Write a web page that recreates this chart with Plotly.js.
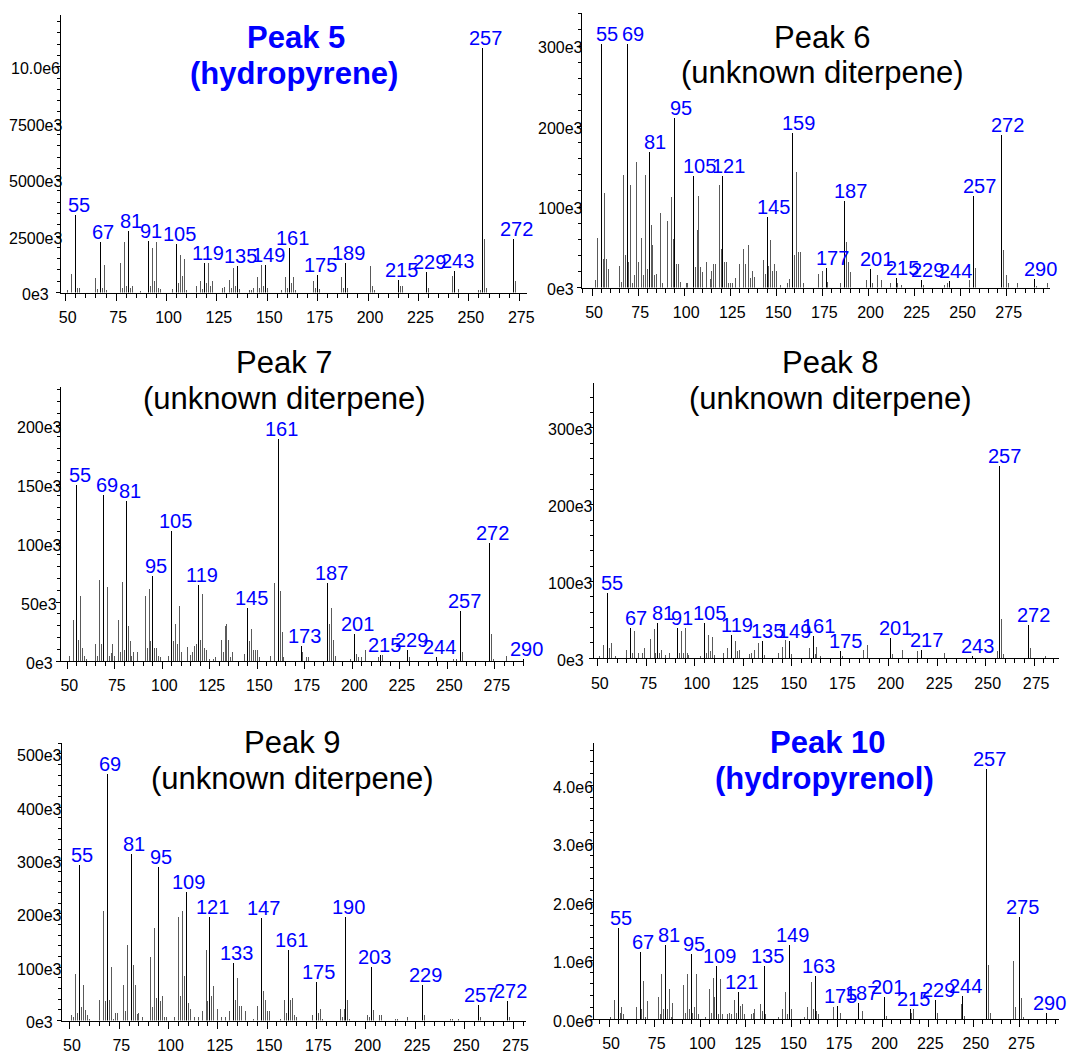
<!DOCTYPE html>
<html><head><meta charset="utf-8">
<script src="https://cdn.plot.ly/plotly-3.0.1.min.js"></script>
<style>
html,body{margin:0;padding:0;background:#fff}
.scatterlayer .js-line{shape-rendering:crispEdges}
</style>
</head><body><div id="chart" style="width:1069px;height:1054px"></div>
<script>
// ---------- DATA (intensities in thousands of counts) ----------
const mzP5 = [51,53,55,56,57,65,66,67,68,69,70,77,78,79,80,81,82,83,87,91,92,93,94,95,96,97,103,105,106,107,108,109,110,115,117,118,119,120,121,122,123,128,129,131,132,133,134,135,136,141,142,143,145,146,147,148,149,150,157,159,160,161,162,163,164,173,174,175,176,187,188,189,190,201,202,203,215,216,217,229,230,242,243,245,255,256,257,258,259,272,273];
const intP5 = [100,820,3430,190,220,640,160,2230,220,1230,90,1310,220,2230,310,2720,220,310,80,2300,300,1970,490,2230,220,160,160,2150,420,1650,740,1480,100,310,490,160,1310,420,1310,310,490,220,250,560,220,1080,310,1160,160,100,100,190,670,220,1230,310,1230,190,100,670,220,1970,420,670,100,490,220,760,160,670,190,1290,220,1160,310,100,560,310,310,900,220,740,960,160,100,100,10830,2370,190,2370,490];
const labP5 = [55,67,81,91,105,119,135,149,161,175,189,215,229,243,257,272];

const mzP6 = [52,53,55,56,57,58,59,65,66,67,68,69,70,71,72,73,74,75,77,78,79,80,81,82,83,84,85,87,88,91,93,94,95,96,97,98,101,102,105,106,107,108,109,110,112,114,115,116,117,119,120,121,122,123,124,125,126,128,130,132,133,135,136,137,138,143,144,145,146,147,148,149,150,152,156,157,159,160,161,162,163,165,173,175,177,178,185,187,188,189,190,199,201,202,205,207,212,215,216,218,229,230,241,243,244,255,257,258,272,273,275,276,281,290,291,297];
const intP6 = [9,62,303,36,117,36,23,27,7,140,41,303,32,127,5,16,156,32,62,16,140,23,168,78,53,16,17,92,5,83,112,60,210,29,29,7,6,6,138,26,71,114,26,19,32,11,20,29,29,127,48,138,32,32,5,5,6,12,29,48,29,53,12,20,13,34,17,87,27,59,20,29,20,3,6,10,192,41,143,44,44,6,17,21,24,7,5,108,57,32,19,9,23,6,16,9,5,12,6,3,9,3,3,5,8,9,114,24,190,46,16,5,5,11,2,6];
const labP6 = [55,69,81,95,105,121,145,159,177,187,201,215,229,244,257,272,290];

const mzP7 = [51,53,55,56,57,58,59,60,65,66,67,68,69,71,72,73,74,75,77,78,79,80,81,82,83,84,85,87,91,92,93,94,95,96,97,98,99,103,105,106,107,108,109,110,113,115,116,117,118,119,120,121,122,123,125,127,128,131,132,133,134,135,136,137,143,145,146,147,148,149,150,151,157,159,161,162,163,164,173,174,176,177,187,188,189,190,191,199,201,202,203,205,207,214,215,216,229,230,244,253,255,257,258,272,273,274,281,290];
const intP7 = [4,35,149,18,55,11,4,2,14,4,69,14,141,63,4,7,14,4,35,8,67,9,136,30,17,4,8,8,55,11,61,17,72,11,11,4,3,4,110,17,31,14,47,8,12,5,8,13,14,64,18,57,11,9,2,2,3,18,8,30,31,18,3,8,6,45,17,27,9,9,9,3,4,66,188,59,25,3,13,8,3,3,66,31,45,18,4,2,23,6,3,3,9,3,5,5,9,3,3,2,2,42,8,100,23,2,4,2];
const labP7 = [55,69,81,95,105,119,145,161,173,187,201,215,229,244,257,272,290];

const mzP8 = [51,53,55,56,57,59,65,67,68,69,71,73,74,77,79,80,81,82,83,85,87,91,92,93,94,95,96,97,103,105,106,107,108,109,110,115,117,119,121,122,123,128,129,131,133,135,136,143,145,147,149,150,159,161,162,163,165,175,176,187,189,201,202,207,215,217,229,243,256,257,258,259,272,273,281];
const intP8 = [3,17,85,13,20,3,11,40,7,35,7,7,13,25,38,7,46,7,11,4,7,40,7,35,7,40,7,4,3,46,7,30,9,28,4,7,13,30,23,9,11,5,7,11,20,22,4,7,15,24,23,6,13,29,6,15,3,9,3,11,17,26,5,11,9,11,7,3,10,250,51,6,43,13,3];
const labP8 = [55,67,81,91,105,119,135,149,161,175,201,217,243,257,272];

const mzP9 = [51,52,53,54,55,56,57,58,59,60,65,67,68,69,70,71,72,73,74,77,78,79,81,82,83,84,85,87,91,92,93,94,95,96,97,98,99,103,105,106,107,108,109,110,111,113,115,117,119,120,121,122,123,125,127,129,131,133,134,135,136,137,139,143,145,147,148,149,150,151,157,159,160,161,162,163,164,165,173,175,176,177,178,187,188,189,190,191,192,201,202,203,204,207,208,215,216,221,229,230,243,244,247,257,258,272,273];
const intP9 = [11,7,87,14,291,25,67,19,11,3,39,205,36,462,39,101,3,14,14,67,17,142,312,105,67,12,14,7,119,25,174,42,287,36,46,7,7,7,195,46,205,83,241,33,22,7,7,17,132,36,195,46,64,22,7,7,17,108,39,80,28,28,17,3,28,192,56,39,17,17,3,39,14,132,39,42,11,7,11,73,14,22,3,22,7,22,195,39,3,11,7,101,19,11,11,3,3,7,67,11,3,3,3,29,7,36,7];
const labP9 = [55,69,81,95,109,121,133,147,161,175,190,203,229,257,272];

const mzP10 = [51,53,55,56,57,58,65,67,68,69,70,71,77,78,79,80,81,82,83,84,85,91,92,93,94,95,96,97,98,99,103,105,106,107,108,109,110,111,112,115,116,117,119,120,121,122,123,124,128,129,130,133,134,135,136,143,145,147,148,149,150,157,159,161,162,163,164,165,173,175,177,187,189,201,202,215,216,217,229,230,243,244,245,257,258,259,272,273,275,276,277,290];
const intP10 = [40,330,1560,110,210,90,210,1150,170,650,30,300,370,90,770,170,1260,170,510,40,270,590,110,770,170,1120,110,210,770,90,40,510,110,710,370,900,90,680,90,90,100,90,330,110,460,230,260,90,90,110,170,260,140,900,90,40,170,460,90,1260,170,40,210,640,170,740,130,90,210,230,100,270,130,370,60,170,100,170,330,100,260,400,60,4280,930,100,1000,200,1750,360,40,110];
const labP10 = [55,67,81,95,109,121,135,149,163,175,187,201,215,229,244,257,275,290];

// y tick labels (values in thousands)
const yTickValsP5 = [0,2500,5000,7500,10000];
const yTickTextP5 = ['0e3','2500e3','5000e3','7500e3','10.0e6'];
const yTickValsP6 = [0,100,200,300];
const yTickTextP6 = ['0e3','100e3','200e3','300e3'];
const yTickValsP7 = [0,50,100,150,200];
const yTickTextP7 = ['0e3','50e3','100e3','150e3','200e3'];
const yTickValsP8 = [0,100,200,300];
const yTickTextP8 = ['0e3','100e3','200e3','300e3'];
const yTickValsP9 = [0,100,200,300,400,500];
const yTickTextP9 = ['0e3','100e3','200e3','300e3','400e3','500e3'];
const yTickValsP10 = [0,1000,2000,3000,4000];
const yTickTextP10 = ['0.0e6','1.0e6','2.0e6','3.0e6','4.0e6'];

const titlesLine1 = ['Peak 5','Peak 6','Peak 7','Peak 8','Peak 9','Peak 10'];
const titlesLine2 = ['(hydropyrene)','(unknown diterpene)','(unknown diterpene)','(unknown diterpene)','(unknown diterpene)','(hydropyrenol)'];
const titleBold = [true,false,false,false,false,true];

// ---------- STYLE / GEOMETRY ----------
const W = 1069, H = 1054;
const FONT = 'Liberation Sans, Arial, Helvetica, sans-serif';
const BLUE = '#0000ff';
const geom = [
  {x0:60.7, x1:527.3, yTop:15.1, yBot:292.5, xr:[47.5,279], yr:[0,12290], ydt:2500, ymdt:500, labCx:35.3, tx1:296, tx2:294.2, ty1:37.3, ty2:73.8, lx:3},
  {x0:582.3, x1:1050, yTop:13.4, yBot:287.5, xr:[44.7,298.5], yr:[0,340.5], ydt:100, ymdt:20, labCx:560, tx1:822.5, tx2:822.8, ty1:37.1, ty2:72.9, lx:6},
  {x0:60.7, x1:524, yTop:386.7, yBot:661, xr:[46.5,290.3], yr:[0,232.5], ydt:50, ymdt:10, labCx:39, tx1:284.5, tx2:284.4, ty1:362, ty2:398.6, lx:3.5},
  {x0:594.3, x1:1059, yTop:382.7, yBot:658.3, xr:[48.2,287.8], yr:[0,359], ydt:100, ymdt:20, labCx:570, tx1:830, tx2:830.7, ty1:362, ty2:398.6, lx:5},
  {x0:61.7, x1:525.8, yTop:742.7, yBot:1020.5, xr:[45.8,281.2], yr:[0,521], ydt:100, ymdt:20, labCx:39, tx1:292.8, tx2:292.8, ty1:742, ty2:778.6, lx:2.5},
  {x0:594.3, x1:1059.2, yTop:742.7, yBot:1019, xr:[41.9,296.8], yr:[0,4730], ydt:1000, ymdt:200, labCx:572.7, tx1:827.6, tx2:824.7, ty1:742, ty2:778.6, lx:3}
];

const series = [
  [mzP5, intP5, labP5, yTickValsP5, yTickTextP5],
  [mzP6, intP6, labP6, yTickValsP6, yTickTextP6],
  [mzP7, intP7, labP7, yTickValsP7, yTickTextP7],
  [mzP8, intP8, labP8, yTickValsP8, yTickTextP8],
  [mzP9, intP9, labP9, yTickValsP9, yTickTextP9],
  [mzP10, intP10, labP10, yTickValsP10, yTickTextP10]
];

// build stick segments (m,0)-(m,I) from the data arrays
function sticks(mz, inten, keep) {
  const xs = [], ys = [];
  mz.forEach((m, i) => { if (keep(m)) { xs.push(m, m, null); ys.push(0, inten[i], null); } });
  return {x: xs, y: ys};
}

const traces = [];
const annotations = [];
const layout = {
  width: W, height: H,
  margin: {l:0, r:0, t:0, b:0, pad:0},
  paper_bgcolor: '#fff', plot_bgcolor: '#fff',
  showlegend: false, hovermode: false,
  font: {family: FONT, color: '#000'}
};

series.forEach((s, k) => {
  const [mz, inten, lab, tv, tt] = s;
  const g = geom[k];
  const id = k === 0 ? '' : String(k + 1);
  const minor = sticks(mz, inten, m => !lab.includes(m));
  const major = sticks(mz, inten, m => lab.includes(m));
  traces.push({type: 'scatter', mode: 'lines', x: minor.x, y: minor.y, connectgaps: false,
    line: {color: '#5a5a5a', width: 1}, xaxis: 'x' + id, yaxis: 'y' + id, hoverinfo: 'skip'});
  traces.push({type: 'scatter', mode: 'lines', x: major.x, y: major.y, connectgaps: false,
    line: {color: '#000000', width: 1}, xaxis: 'x' + id, yaxis: 'y' + id, hoverinfo: 'skip'});
  layout['xaxis' + id] = {
    domain: [g.x0 / W, g.x1 / W], range: g.xr, anchor: 'y' + id,
    showline: true, linecolor: '#000', linewidth: 1,
    ticks: 'outside', ticklen: 7, tickwidth: 1, tickcolor: '#000',
    tickmode: 'linear', tick0: 50, dtick: 25,
    minor: {ticks: 'outside', ticklen: 4, tickwidth: 1, tickcolor: '#000', tickmode: 'linear', tick0: 0, dtick: 5, showgrid: false},
    tickfont: {family: FONT, size: 16, color: '#000'},
    ticklabelstandoff: 3, ticklabelshift: 2,
    showgrid: false, zeroline: false, fixedrange: true
  };
  layout['yaxis' + id] = {
    domain: [1 - g.yBot / H, 1 - g.yTop / H], range: g.yr, anchor: 'x' + id,
    showline: true, linecolor: '#000', linewidth: 1,
    ticks: 'outside', ticklen: 4, tickwidth: 1, tickcolor: '#000',
    tickmode: 'linear', tick0: 0, dtick: g.ydt,
    minor: {ticks: 'outside', ticklen: 3, tickwidth: 1, tickcolor: '#000', tickmode: 'linear', tick0: 0, dtick: g.ymdt, showgrid: false},
    showticklabels: false, showgrid: false, zeroline: false, fixedrange: true
  };
  // y tick labels (centred, as in the original)
  tv.forEach((v, j) => {
    annotations.push({
      xref: 'paper', yref: 'y' + id, x: g.labCx / W, y: v, text: tt[j],
      showarrow: false, xanchor: 'center', yanchor: 'middle', yshift: -2,
      font: {family: FONT, size: 16, color: '#000'}
    });
  });
  // peak labels
  lab.forEach(m => {
    const i = mz.indexOf(m);
    annotations.push({
      xref: 'x' + id, yref: 'y' + id, x: m, y: inten[i], text: String(m),
      showarrow: false, xanchor: 'center', yanchor: 'bottom', xshift: g.lx, yshift: -3,
      font: {family: FONT, size: 20, color: BLUE}
    });
  });
  // titles
  const col = titleBold[k] ? BLUE : '#000';
  const wrap = t => titleBold[k] ? '<b>' + t + '</b>' : t;
  annotations.push({
    xref: 'paper', yref: 'paper', x: g.tx1 / W, y: 1 - g.ty1 / H, text: wrap(titlesLine1[k]),
    showarrow: false, xanchor: 'center', yanchor: 'middle', font: {family: FONT, size: 31, color: col}
  });
  annotations.push({
    xref: 'paper', yref: 'paper', x: g.tx2 / W, y: 1 - g.ty2 / H, text: wrap(titlesLine2[k]),
    showarrow: false, xanchor: 'center', yanchor: 'middle', font: {family: FONT, size: 31, color: col}
  });
});
layout.annotations = annotations;

Plotly.newPlot('chart', traces, layout, {displayModeBar: false, responsive: false});
</script>
</body></html>
